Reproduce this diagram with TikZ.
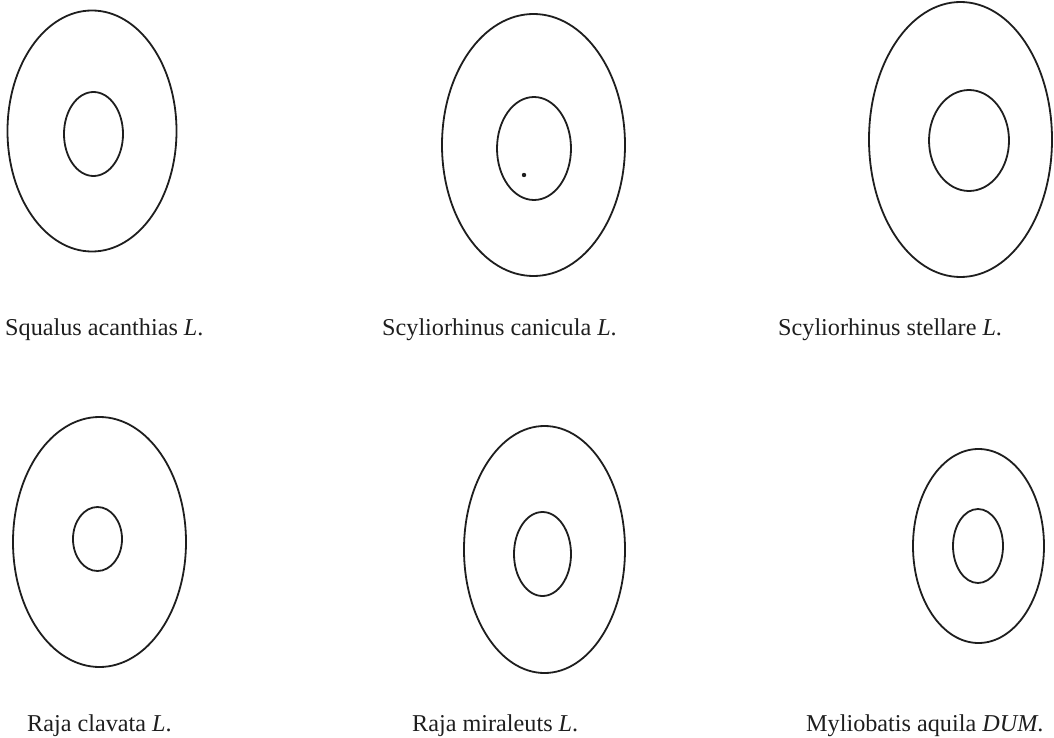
\documentclass[tikz,border=0pt]{standalone}
\usepackage{fontspec}
\setmainfont{Liberation Serif}
\usetikzlibrary{shapes.geometric}
\definecolor{inkgray}{HTML}{1E1E1E}

\begin{document}
\begin{tikzpicture}[
    x=1pt, y=-1pt,
    % contours of the sections
    ring/.style={draw=inkgray, ellipse, line width=1.8pt, inner sep=0pt},
    % species names under each section
    species/.style={anchor=base west, inner sep=0pt, text=inkgray,
        font=\fontsize{24.2}{29}\selectfont}
]
    \useasboundingbox (0,0) rectangle (1054,738);

    % --- first row ---
    \node[ring, minimum width=169pt, minimum height=241pt] (squOut) at (92,131) {};
    \node[ring, minimum width=59pt, minimum height=84pt] (squIn) at (93.5,134) {};
    \node[species] (squName) at (5,335) {Squalus acanthias \textit{L}.};

    \node[ring, minimum width=183pt, minimum height=262pt] (canOut) at (533.5,145) {};
    \node[ring, minimum width=74pt, minimum height=103pt] (canIn) at (534,148.5) {};
    \fill[inkgray] (524,175) circle (2.2pt);
    \node[species] (canName) at (382,335) {Scyliorhinus canicula \textit{L}.};

    \node[ring, minimum width=183pt, minimum height=275pt] (stlOut) at (960.5,139.5) {};
    \node[ring, minimum width=80pt, minimum height=101pt] (stlIn) at (969,140.5) {};
    \node[species] (stlName) at (778,335) {Scyliorhinus stellare \textit{L}.};

    % --- second row ---
    \node[ring, minimum width=173pt, minimum height=250pt] (clvOut) at (99.5,542) {};
    \node[ring, minimum width=49pt, minimum height=64pt] (clvIn) at (97.5,539) {};
    \node[species] (clvName) at (27,731) {Raja clavata \textit{L}.};

    \node[ring, minimum width=161pt, minimum height=247pt] (mirOut) at (544.5,549.5) {};
    \node[ring, minimum width=57pt, minimum height=84pt] (mirIn) at (542.5,554) {};
    \node[species] (mirName) at (412,731) {Raja miraleuts \textit{L}.};

    \node[ring, minimum width=131pt, minimum height=194pt] (aqlOut) at (978.5,546) {};
    \node[ring, minimum width=50pt, minimum height=74pt] (aqlIn) at (978,546) {};
    \node[species] (aqlName) at (806,731) {Myliobatis aquila \textit{DUM}.};
\end{tikzpicture}
\end{document}
